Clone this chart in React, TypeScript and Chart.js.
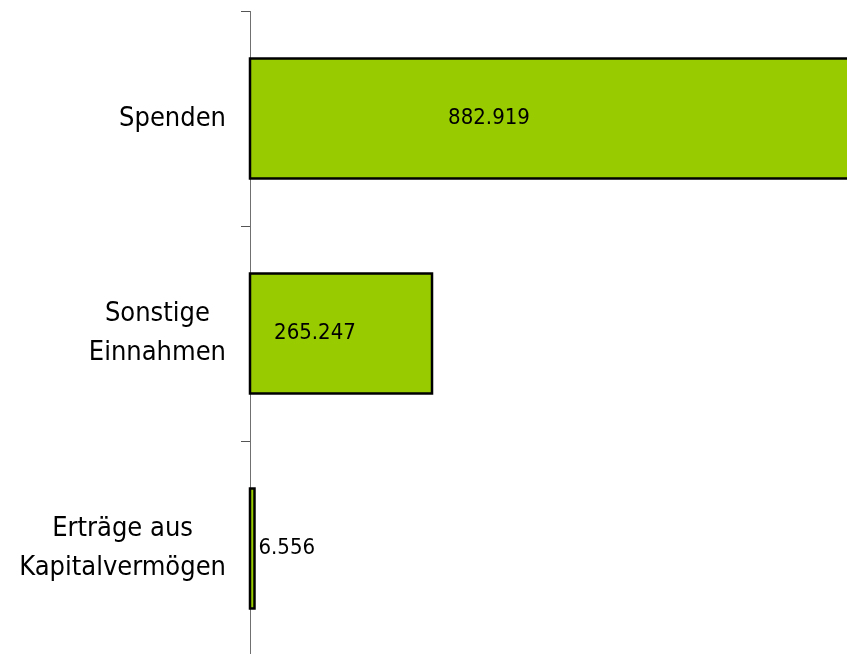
import React, { useEffect, useRef } from "react";
import { Chart, registerables } from "chart.js";

Chart.register(...registerables);

const categories: string[][] = [
  ["Spenden"],
  ["Sonstige", "Einnahmen"],
  ["Erträge aus", "Kapitalvermögen"],
];
const values: number[] = [882919, 265247, 6556];
const valueLabels: string[] = ["882.919", "265.247", "6.556"];
// label anchor as fraction of bar length (null = outside end)
const labelFractions: (number | null)[] = [0.3945, 0.357, null];

const FONT = '"DejaVu Sans Condensed", "DejaVu Sans", sans-serif';

export default function App() {
  const ref = useRef<HTMLCanvasElement | null>(null);
  useEffect(() => {
    if (!ref.current) return;
    const labelPlugin = {
      id: "valueLabels",
      afterDatasetsDraw(chart: any) {
        const ctx = chart.ctx;
        const meta = chart.getDatasetMeta(0);
        const xs = chart.scales.x;
        const ys = chart.scales.y;
        ctx.save();
        // centered bar outlines
        ctx.strokeStyle = "#000";
        ctx.lineWidth = 2.5;
        meta.data.forEach((el: any) => {
          const p = el.getProps(["x", "y", "base", "height"], true);
          const left = Math.min(p.base, p.x);
          const right = Math.max(p.base, p.x);
          ctx.strokeRect(left, p.y - p.height / 2, right - left, p.height);
        });
        ctx.fillStyle = "#000";
        ctx.textBaseline = "middle";
        // value labels
        ctx.font = `22px ${FONT}`;
        meta.data.forEach((el: any, i: number) => {
          const f = labelFractions[i];
          const y = el.y;
          if (f === null) {
            ctx.textAlign = "left";
            ctx.fillText(valueLabels[i], el.x + 4, y);
          } else {
            ctx.textAlign = "center";
            ctx.fillText(valueLabels[i], xs.getPixelForValue(values[i] * f), y);
          }
        });
        // category labels: block right-aligned, lines centered
        ctx.font = `27px ${FONT}`;
        ctx.textAlign = "center";
        const right = chart.chartArea.left - 24;
        const lh = 39;
        categories.forEach((lines, i) => {
          const cy = ys.getPixelForTick(i);
          const maxW = Math.max(...lines.map((l) => ctx.measureText(l).width));
          const cx = right - maxW / 2;
          const y0 = cy - ((lines.length - 1) * lh) / 2;
          lines.forEach((l, j) => ctx.fillText(l, cx, y0 + j * lh));
        });
        ctx.restore();
      },
    };
    const chart = new Chart(ref.current, {
      type: "bar",
      data: {
        labels: categories.map((c) => c.join(" ")),
        datasets: [
          {
            data: values,
            backgroundColor: "#99CC00",
            borderWidth: 0,
            barPercentage: 0.558,
            categoryPercentage: 1,
          },
        ],
      },
      options: {
        indexAxis: "y",
        animation: false,
        responsive: true,
        maintainAspectRatio: false,
        layout: { padding: { top: 11, right: 0, bottom: 0, left: 0 } },
        plugins: {
          legend: { display: false },
          tooltip: { enabled: false },
        },
        scales: {
          x: {
            display: false,
            min: 0,
            max: 870000,
          },
          y: {
            afterFit(scale: any) {
              scale.width = 250;
              scale.paddingTop = 0;
              scale.paddingBottom = 0;
            },
            border: { display: true, color: "#707070", width: 1 },
            grid: {
              offset: true,
              drawOnChartArea: false,
              drawTicks: true,
              tickLength: 9,
              color: "#555555",
            },
            ticks: {
              padding: 15,
              color: "rgba(0,0,0,0)",
              font: { family: FONT, size: 12 },
            },
          },
        },
      },
      plugins: [labelPlugin],
    });
    return () => chart.destroy();
  }, []);
  return (
    <div style={{ position: "fixed", left: 0, top: 0, width: 847, height: 656, background: "#fff" }}>
      <canvas ref={ref} />
    </div>
  );
}
